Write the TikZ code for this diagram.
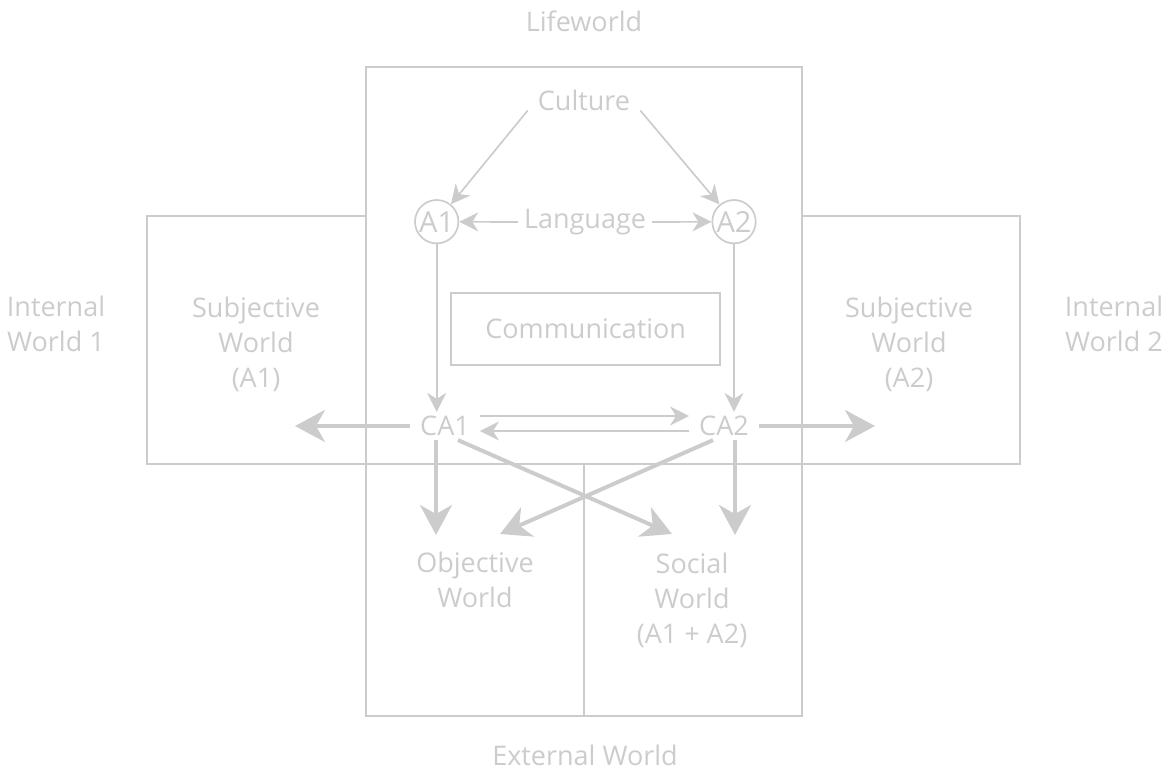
\documentclass[tikz,border=0pt]{standalone}
\usepackage{fontspec}
\newfontfamily\worldfont{Open Sans}
\usetikzlibrary{arrows.meta,calc}
\definecolor{lightline}{HTML}{CCCCCC}

\begin{document}
\begin{tikzpicture}[x=1pt, y=-1pt,
	>={Stealth[length=19pt, width=19pt, inset=6pt]},
	every node/.style={text=lightline, font=\worldfont\fontsize{27}{35}\selectfont, align=center},
	box/.style={draw=lightline, line width=2pt},
	thinarrow/.style={draw=lightline, line width=1.7pt, ->},
	thickarrow/.style={draw=lightline, line width=4pt, -{Stealth[length=30pt, width=32pt, inset=9pt]}},
	agent/.style={circle, draw=lightline, line width=1.7pt, minimum size=43.4pt, inner sep=0pt, font=\worldfont\fontsize{29}{35}\selectfont}]
	\useasboundingbox (0, 0) rectangle (1171, 771);

	% worlds
	\draw[box] (366, 67) rectangle (802, 464);
	\draw[box] (147, 216) rectangle (366, 464);
	\draw[box] (802, 216) rectangle (1020, 464);
	\draw[box] (366, 464) rectangle (802, 716);
	\draw[box] (584, 464) -- (584, 716);

	\node[anchor=base] (lifeworld) at (584, 31) {Lifeworld};
	\node[anchor=base] (external) at (585, 765) {External World};
	\node (internal1) at (56, 324) {Internal\\World 1};
	\node (internal2) at (1114, 324) {Internal\\World 2};
	\node (subjective1) at (256, 344) {Subjective\\World\\(A1)};
	\node (subjective2) at (909, 344) {Subjective\\World\\(A2)};
	\node (objective) at (475, 580) {Objective\\World};
	\node (social) at (692, 600) {Social\\World\\(A1 + A2)};

	% lifeworld
	\node[anchor=base, inner xsep=10pt, inner ysep=0pt] (culture) at (584, 110) {Culture};
	\node[agent] (a1) at (436.7, 221.7) {A1};
	\node[agent] (a2) at (734, 221.7) {A2};
	\node[inner xsep=6pt] (language) at (585, 222) {Language};
	\node[draw=lightline, line width=2pt, minimum width=269pt, minimum height=72pt] (communication) at (585.7, 328.8) {Communication};
	\node[inner xsep=10pt, inner ysep=4pt] (ca1) at (445, 426) {CA1};
	\node[inner xsep=10pt, inner ysep=4pt] (ca2) at (724, 426) {CA2};

	\draw[thinarrow] (culture.south west) -- (a1);
	\draw[thinarrow] (culture.south east) -- (a2);
	\draw[thinarrow] (language.west) -- (a1);
	\draw[thinarrow] (language.east) -- (a2);
	\draw[thinarrow] (a1.south) -- (a1.south |- ca1.north);
	\draw[thinarrow] (a2.south) -- (a2.south |- ca2.north);
	\draw[thinarrow] ([yshift=10pt]ca1.east) -- ([yshift=10pt]ca2.west);
	\draw[thinarrow] ([yshift=-5pt]ca2.west) -- ([yshift=-5pt]ca1.east);

	% actions into the worlds
	\coordinate (left tip) at (295, 426);
	\coordinate (right tip) at (875, 426);
	\coordinate (objective drop) at (436, 535);
	\coordinate (social drop) at (735, 535);
	\coordinate (objective tip) at (500, 534);
	\coordinate (social tip) at (672, 534);

	\draw[thickarrow] (ca1.west) -- (left tip);
	\draw[thickarrow] (ca2.east) -- (right tip);
	\draw[thickarrow] (ca1.south -| objective drop) -- (objective drop);
	\draw[thickarrow] (ca2.south -| social drop) -- (social drop);
	\draw[thickarrow] ([xshift=13pt]ca1.south) -- (social tip);
	\draw[thickarrow] ([xshift=-11pt]ca2.south) -- (objective tip);

\end{tikzpicture}
\end{document}
